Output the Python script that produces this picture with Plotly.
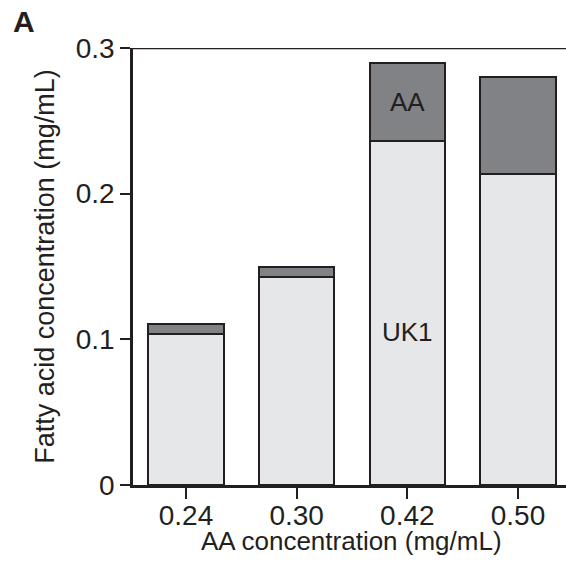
import plotly.graph_objects as go

categories = ["0.24", "0.30", "0.42", "0.50"]
uk1 = [0.104, 0.143, 0.236, 0.2135]
aa = [0.0065, 0.007, 0.054, 0.0665]
y_ticks = [0, 0.1, 0.2, 0.3]
y_ticktext = ["0", "0.1", "0.2", "0.3"]

FONT = "Arial, Liberation Sans, Helvetica, sans-serif"
INK = "#231f20"
x = list(range(len(categories)))

fig = go.Figure()
fig.add_trace(go.Bar(x=x, y=uk1, name="UK1", width=0.68,
                     marker=dict(color="#e6e7e8", line=dict(color=INK, width=2))))
fig.add_trace(go.Bar(x=x, y=aa, name="AA", width=0.68,
                     marker=dict(color="#818285", line=dict(color=INK, width=2))))

fig.add_annotation(x=2, y=uk1[2] + aa[2] / 2, text="AA", showarrow=False,
                   font=dict(family=FONT, size=26, color=INK))
fig.add_annotation(x=2, y=0.105, text="UK1", showarrow=False,
                   font=dict(family=FONT, size=26, color=INK))
fig.add_annotation(x=0, y=1, xref="paper", yref="paper", xshift=-122, yshift=27,
                   text="<b>A</b>", showarrow=False, xanchor="left", yanchor="middle",
                   font=dict(family=FONT, size=30, color=INK))
# x-axis title
fig.add_annotation(x=1.5, y=0, xref="x", yref="paper", yshift=-56,
                   text="AA concentration (mg/mL)", showarrow=False,
                   xanchor="center", yanchor="middle",
                   font=dict(family=FONT, size=26, color=INK))

fig.add_shape(type="line", xref="paper", yref="y", x0=0, x1=1, y0=0.3, y1=0.3,
              line=dict(color=INK, width=2.5))

fig.update_layout(
    width=566, height=565,
    margin=dict(l=133, r=0, t=48, b=80),
    barmode="stack",
    showlegend=False,
    plot_bgcolor="white", paper_bgcolor="white",
    font=dict(family=FONT, color=INK),
    xaxis=dict(range=[-0.479, 3.434], tickvals=x, ticktext=categories,
               showline=True, linecolor=INK, linewidth=2.5,
               ticks="outside", ticklen=11, tickwidth=2, tickcolor=INK,
               ticklabelstandoff=-7,
               tickfont=dict(size=28, family=FONT, color=INK),
               showgrid=False, zeroline=False),
    yaxis=dict(range=[0, 0.3], tickvals=y_ticks, ticktext=y_ticktext,
               showline=True, linecolor=INK, linewidth=2.5,
               ticks="outside", ticklen=10, tickwidth=2, tickcolor=INK,
               tickfont=dict(size=28, family=FONT, color=INK),
               showgrid=False, zeroline=False,
               title=dict(text="Fatty acid concentration (mg/mL)", standoff=14,
                          font=dict(size=27, family=FONT, color=INK))),
)

fig.write_html("out.html", config={"displayModeBar": False},
               post_script="document.body.style.margin='0';")
